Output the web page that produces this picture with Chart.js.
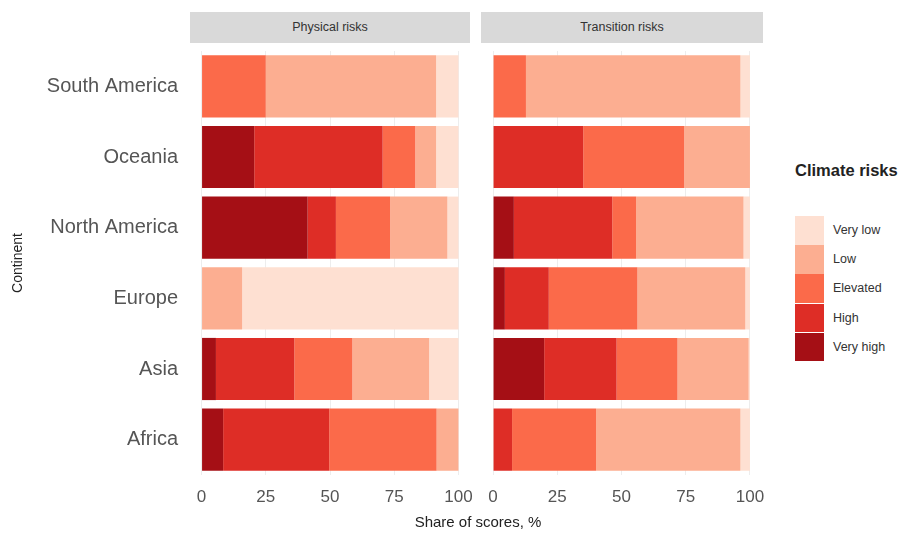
<!DOCTYPE html>
<html>
<head>
<meta charset="utf-8">
<script src="https://cdn.jsdelivr.net/npm/chart.js@4.4.1/dist/chart.umd.min.js"></script>
<style>
  body { margin: 0; background: #fff; font-family: "Liberation Sans", Arial, sans-serif; }
  #wrap { position: relative; width: 910px; height: 533px; overflow: hidden; }
  .strip { position: absolute; top: 12px; height: 31px; background: #d9d9d9; color: #333;
           font-size: 12.5px; line-height: 31px; text-align: center; }
  #xtitle { position: absolute; top: 513px; left: 0; width: 956px; text-align: center; font-size: 15px; color: #222; }
  #legend { position: absolute; left: 795px; top: 161px; }
  #legend .ttl { font-weight: bold; font-size: 16.5px; color: #222; margin-bottom: 36px; }
  .item { height: 29.2px; position: relative; }
  .sw { position: absolute; left: 0; top: 0; width: 29px; height: 28.5px; }
  .lab { position: absolute; left: 38px; top: 7px; font-size: 12.5px; color: #333; }
</style>
</head>
<body>
<div id="wrap">
  <div class="strip" style="left:190px;width:280px">Physical risks</div>
  <div class="strip" style="left:481px;width:282px">Transition risks</div>
  <canvas id="phys" style="position:absolute;left:0;top:0" width="476" height="533"></canvas>
  <canvas id="trans" style="position:absolute;left:476px;top:0" width="290" height="533"></canvas>
  <div id="xtitle">Share of scores, %</div>
  <div id="legend"><div class="ttl">Climate risks</div></div>
</div>
<script>
  // Categories (top to bottom)
  let continents = ["South America", "Oceania", "North America", "Europe", "Asia", "Africa"];
  let levels = ["Very high", "High", "Elevated", "Low", "Very low"];
  let level_colors = ["#a50f15", "#de2d26", "#fb6a4a", "#fcae91", "#fee0d2"];
  let x_ticks = [0, 25, 50, 75, 100];

  // Physical risks, share of scores (%)
  let phys_very_high = [0, 20.5, 41.3, 0, 5.6, 8.4];
  let phys_high      = [0, 50.0, 11.0, 0, 30.5, 41.3];
  let phys_elevated  = [25.0, 12.7, 21.1, 0, 22.6, 41.8];
  let phys_low       = [66.3, 8.1, 22.3, 15.8, 29.9, 8.5];
  let phys_very_low  = [8.7, 8.7, 4.3, 84.2, 11.4, 0];

  // Transition risks, share of scores (%)
  let trans_very_high = [0, 0, 8.1, 4.6, 19.9, 0];
  let trans_high      = [0, 35.1, 38.3, 17.1, 28.2, 7.4];
  let trans_elevated  = [12.8, 39.3, 9.3, 34.5, 23.7, 32.7];
  let trans_low       = [83.5, 25.6, 41.8, 42.0, 27.7, 56.2];
  let trans_very_low  = [3.7, 0, 2.5, 1.8, 0.5, 3.7];

  let phys_series = [phys_very_high, phys_high, phys_elevated, phys_low, phys_very_low];
  let trans_series = [trans_very_high, trans_high, trans_elevated, trans_low, trans_very_low];

  let make_datasets = function(series) {
    return series.map(function(vals, i) {
      return {
        label: levels[i],
        data: vals,
        backgroundColor: level_colors[i],
        borderWidth: 0,
        barPercentage: 0.88,
        categoryPercentage: 1.0
      };
    });
  };

  let x_axis = function() {
    return {
      stacked: true,
      min: -4.5,
      max: 104.5,
      afterBuildTicks: function(scale) {
        scale.ticks = x_ticks.map(function(v) { return { value: v }; });
      },
      afterFit: function(scale) {
        scale.height = 58;
        // don't let the "100" label shrink the panel
        scale.paddingLeft = 0;
        scale.paddingRight = 0;
      },
      grid: { color: "#ededed", drawTicks: false },
      border: { display: false },
      ticks: { padding: 12, color: "#555", font: { size: 17, family: "Liberation Sans, Arial" } }
    };
  };

  // Physical risks panel (carries the continent labels)
  new Chart(document.getElementById("phys"), {
    type: "bar",
    data: { labels: continents, datasets: make_datasets(phys_series) },
    options: {
      indexAxis: "y",
      responsive: false,
      animation: false,
      layout: { padding: { top: 51, right: 6 } },
      plugins: { legend: { display: false }, tooltip: { enabled: false } },
      scales: {
        x: x_axis(),
        y: {
          stacked: true,
          afterFit: function(scale) { scale.width = 190; },
          grid: { display: false },
          border: { display: false },
          title: { display: true, text: "Continent", color: "#222", padding: { top: 10, bottom: 0 },
                   font: { size: 14, family: "Liberation Sans, Arial" } },
          ticks: { padding: 4, color: "#555", font: { size: 20, family: "Liberation Sans, Arial" } }
        }
      }
    }
  });

  // Transition risks panel
  new Chart(document.getElementById("trans"), {
    type: "bar",
    data: { labels: continents, datasets: make_datasets(trans_series) },
    options: {
      indexAxis: "y",
      responsive: false,
      animation: false,
      layout: { padding: { top: 51, left: 5.5, right: 4.5 } },
      plugins: { legend: { display: false }, tooltip: { enabled: false } },
      scales: {
        x: x_axis(),
        y: { stacked: true, display: false }
      }
    }
  });

  // Legend, lightest level on top
  let legend_div = document.getElementById("legend");
  for (let i = levels.length - 1; i >= 0; i--) {
    let item = document.createElement("div");
    item.className = "item";
    item.innerHTML = '<div class="sw" style="background:' + level_colors[i] + '"></div>' +
                     '<div class="lab">' + levels[i] + '</div>';
    legend_div.appendChild(item);
  }
</script>
</body>
</html>
